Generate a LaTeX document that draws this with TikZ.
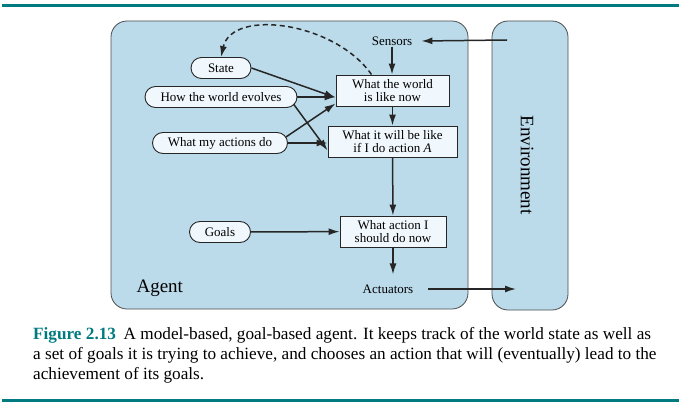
\documentclass[tikz,border=0pt]{standalone}
\usepackage{fontspec}
\setmainfont{Liberation Serif}
\usepackage{xcolor}
\usetikzlibrary{positioning,arrows.meta,calc}
\definecolor{agentblue}{RGB}{187,219,235}
\definecolor{nodepale}{RGB}{241,248,253}
\definecolor{capteal}{RGB}{0,123,128}
\tikzset{
  panel/.style={rounded corners=16pt, draw=black!70, line width=0.8pt, fill=agentblue},
  pill/.style={rounded corners=10.5pt, draw=black!85, line width=0.9pt, fill=nodepale, minimum height=21pt, inner sep=0pt, font=\fontsize{13}{13.5}\selectfont},
  statebox/.style={draw=black!85, line width=0.9pt, fill=nodepale, align=center, minimum height=31pt, inner sep=0pt, font=\fontsize{13}{13.5}\selectfont},
  plain/.style={inner sep=1pt, font=\fontsize{13}{13.5}\selectfont},
  arr/.style={-{Latex[length=11pt,width=7pt]}, line width=1.5pt, draw=black!85},
}
\begin{document}
\begin{tikzpicture}[x=1pt,y=-1pt]
    \useasboundingbox (0,0) rectangle (679,404);
    % rules above and below
    \fill[capteal] (2,4) rectangle (679,7);
    \fill[capteal] (2,399) rectangle (679,402);
    % agent and environment
    \draw[panel] (111,21) rectangle (468,309);
    \draw[panel] (492,21) rectangle (568,310);
    \node[anchor=base west,font=\fontsize{19}{19}\selectfont] (agentlbl) at (133,292) {Agent};
    \node[rotate=-90,font=\fontsize{19}{19}\selectfont] (envlbl) at (527,165) {Environment};
    % nodes
    \node[plain] (sensors) at (392,41) {Sensors};
    \node[plain] (actuators) at (388,289) {Actuators};
    \node[pill,minimum width=60pt] (state) at (221,68) {State};
    \node[pill,minimum width=152pt] (evolves) at (221,97) {How the world evolves};
    \node[pill,minimum width=135pt] (actions) at (220,143) {What my actions do};
    \node[pill,minimum width=61pt] (goals) at (220,232) {Goals};
    \node[statebox,minimum width=113pt] (now) at (392.5,90.5) {What the world\\is like now};
    \node[statebox,minimum width=129pt] (willbe) at (392.5,141.5) {What it will be like\\if I do action \textit{A}};
    \node[statebox,minimum width=106pt] (act) at (393,231.5) {What action I\\should do now};
    \coordinate (envout) at (507,40);
    \coordinate (envin) at (516,289);
    % connectors
    \draw[arr] (envout) -- ([xshift=8pt]sensors.east);
    \draw[arr] (sensors.south) -- (sensors.south |- now.north);
    \draw[arr] (state.east) -- ([yshift=-7pt]now.west);
    \draw[arr] (evolves.east) -- (now.west |- evolves.east);
    \draw[arr] ([xshift=-4pt,yshift=-7pt]evolves.east) -- ([yshift=-9pt]willbe.west);
    \draw[arr] ([xshift=-2pt,yshift=6pt]actions.east) -- ([yshift=-13pt]now.west);
    \draw[arr] (actions.east) -- (willbe.west |- actions.east);
    \draw[arr] (now) -- (willbe);
    \draw[arr] (willbe) -- (act);
    \draw[arr] (goals) -- (act);
    \draw[arr] (act.south) -- ($(act.south |- actuators.north)+(0,-9)$);
    \draw[arr] ([xshift=14pt]actuators.east) -- (envin);
    \draw[arr,dashed,dash pattern=on 5pt off 3.5pt] ([xshift=-21pt]now.north) .. controls (335,22) and (232,8) .. (state.north);
    % caption
    \node[anchor=north west,align=left,inner sep=0pt,font=\fontsize{17.2}{20}\selectfont] (caption) at (33,327.5)
      {\textcolor{capteal}{\textbf{Figure 2.13}}\hspace{0.45em}A model-based, goal-based agent. It keeps track of the world state as well as\\
       a set of goals it is trying to achieve, and chooses an action that will (eventually) lead to the\\
       achievement of its goals.};
\end{tikzpicture}
\end{document}
